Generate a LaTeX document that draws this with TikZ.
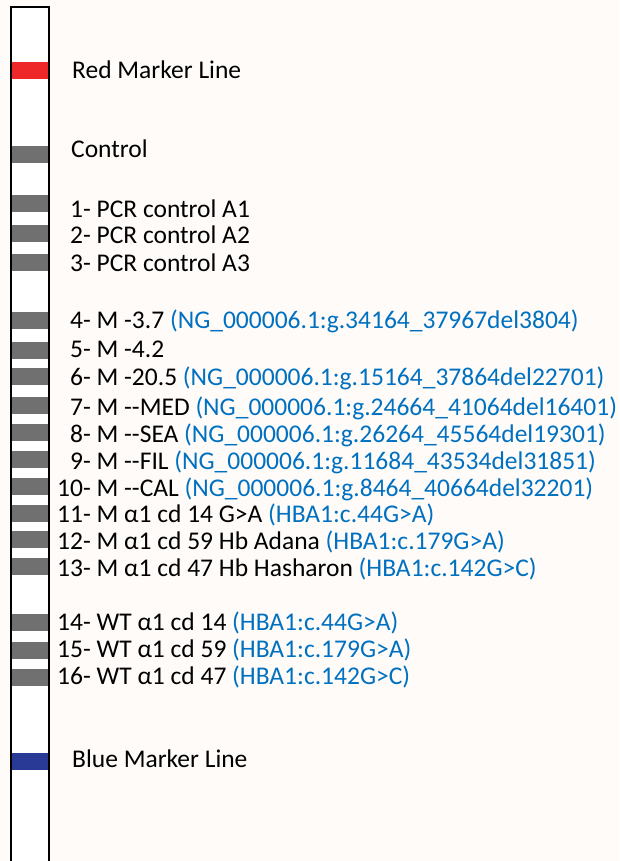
\documentclass[tikz,border=0pt]{standalone}
\usepackage{fontspec}
\setmainfont{Carlito}
\definecolor{bandgray}{RGB}{112,112,112}
\definecolor{markred}{RGB}{238,40,40}
\definecolor{markblue}{RGB}{40,58,150}
\definecolor{hgvsblue}{RGB}{0,112,192}
\definecolor{paper}{RGB}{254,251,249}
\newcommand{\hgvs}[1]{\textcolor{hgvsblue}{#1}}
\newcommand{\lane}[1]{\makebox[1.32em][r]{#1}}
\begin{document}
\begin{tikzpicture}[x=1pt,y=-1pt,
        lbl/.style={anchor=base west,inner sep=0pt,font=\fontsize{25.5}{30}\selectfont},
        band/.style={fill=bandgray}]
    \fill[paper] (0,0) rectangle (619,861);
    \useasboundingbox (0,0) rectangle (619,861);
    \fill[white] (11,7) rectangle (49,861);
    \fill[markred] (11,62) rectangle (49,79);
    \foreach \t in {146,195,225,254,312,342,368,397,424,451,478,505,531,558,614,642,669}
        \fill[band] (11,\t) rectangle (49,\t+17);
    \fill[markblue] (11,753) rectangle (49,770);
    \draw[line width=2.5pt] (11,861) -- (11,7) -- (49,7) -- (49,861);
    \node[lbl] (red) at (72,79) {Red Marker Line};
    \node[lbl] (ctrl) at (71,158) {Control};
    \node[lbl] (l1) at (57,217) {\lane{1-} PCR control A1};
    \node[lbl] (l2) at (57,243) {\lane{2-} PCR control A2};
    \node[lbl] (l3) at (57,271) {\lane{3-} PCR control A3};
    \node[lbl] (l4) at (57,328) {\lane{4-} M -3.7 \hgvs{(NG\_000006.1:g.34164\_37967del3804)}};
    \node[lbl] (l5) at (57,357) {\lane{5-} M -4.2};
    \node[lbl] (l6) at (57,385) {\lane{6-} M -20.5 \hgvs{(NG\_000006.1:g.15164\_37864del22701)}};
    \node[lbl] (l7) at (57,415) {\lane{7-} M -{}-MED \hgvs{(NG\_000006.1:g.24664\_41064del16401)}};
    \node[lbl] (l8) at (57,442) {\lane{8-} M -{}-SEA \hgvs{(NG\_000006.1:g.26264\_45564del19301)}};
    \node[lbl] (l9) at (57,469) {\lane{9-} M -{}-FIL \hgvs{(NG\_000006.1:g.11684\_43534del31851)}};
    \node[lbl] (l10) at (57,496) {\lane{10-} M -{}-CAL \hgvs{(NG\_000006.1:g.8464\_40664del32201)}};
    \node[lbl] (l11) at (57,522) {\lane{11-} M α1 cd 14 G>A \hgvs{(HBA1:c.44G>A)}};
    \node[lbl] (l12) at (57,549) {\lane{12-} M α1 cd 59 Hb Adana \hgvs{(HBA1:c.179G>A)}};
    \node[lbl] (l13) at (57,576) {\lane{13-} M α1 cd 47 Hb Hasharon \hgvs{(HBA1:c.142G>C)}};
    \node[lbl] (l14) at (57,630) {\lane{14-} WT α1 cd 14 \hgvs{(HBA1:c.44G>A)}};
    \node[lbl] (l15) at (57,657) {\lane{15-} WT α1 cd 59 \hgvs{(HBA1:c.179G>A)}};
    \node[lbl] (l16) at (57,684) {\lane{16-} WT α1 cd 47 \hgvs{(HBA1:c.142G>C)}};
    \node[lbl] (blue) at (72,767) {Blue Marker Line};
\end{tikzpicture}
\end{document}
